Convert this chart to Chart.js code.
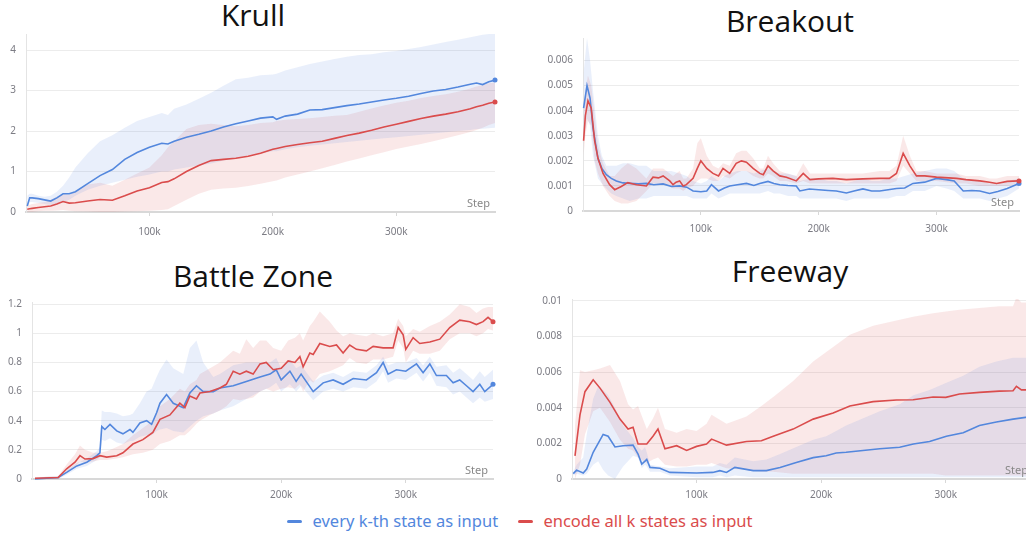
<!DOCTYPE html>
<html>
<head>
<meta charset="utf-8">
<script src="https://cdn.jsdelivr.net/npm/chart.js@4.4.1/dist/chart.umd.min.js"></script>
<style>
  html, body { margin: 0; padding: 0; background: #fff; }
  body { width: 1026px; height: 534px; overflow: hidden; position: relative; font-family: "Noto Sans", sans-serif; }
  canvas { position: absolute; }
  .title { position: absolute; width: 500px; text-align: center; font-family: "Open Sans", sans-serif; font-size: 30px; line-height: 30px; color: #111; }
  #legend { position: absolute; left: 0; top: 511px; width: 1040px; text-align: center; font-size: 16.5px; line-height: 20px; white-space: nowrap; }
  .item { display: inline-block; margin: 0 8px; }
  .mark { display: inline-block; width: 15px; height: 3px; border-radius: 2px; vertical-align: middle; margin-right: 10px; position: relative; top: -1px; }
</style>
</head>
<body>
<div class="title" style="left:3px;top:0px">Krull</div>
<div class="title" style="left:540px;top:6px">Breakout</div>
<div class="title" style="left:3px;top:261px">Battle Zone</div>
<div class="title" style="left:540px;top:256px">Freeway</div>

<canvas id="krull"></canvas>
<canvas id="breakout"></canvas>
<canvas id="battle"></canvas>
<canvas id="freeway"></canvas>

<div id="legend">
  <span class="item" style="color:#5387dd"><span class="mark" style="background:#5387dd"></span>every k-th state as input</span>
  <span class="item" style="color:#da4c4c"><span class="mark" style="background:#da4c4c"></span>encode all k states as input</span>
</div>

<script>
// ---- data (steps in thousands) ----
// Krull
const krullSteps = [1,3,5,10,15,20,25,30,35,40, 50,60,70,80,90,100,110,115,120,130, 140,150,160,170,180,190,200,203,210,220, 230,240,250,260,270,280,290,300,310,320, 330,340,350,360,365,370,375,380];
const krullEveryMean = [0.15,0.35,0.35,0.33,0.3,0.27,0.35,0.45,0.45,0.5, 0.7,0.9,1.05,1.3,1.47,1.6,1.7,1.68,1.75,1.85, 1.92,2.0,2.1,2.18,2.25,2.32,2.35,2.29,2.37,2.42, 2.52,2.53,2.58,2.63,2.67,2.72,2.77,2.81,2.86,2.93, 2.99,3.03,3.09,3.16,3.19,3.15,3.22,3.26];
const krullEveryHi = [0.4,0.45,0.45,0.4,0.38,0.4,0.5,0.65,0.85,1.1, 1.45,1.75,1.9,2.08,2.25,2.35,2.45,2.4,2.55,2.66, 2.8,2.95,3.12,3.28,3.32,3.38,3.4,3.42,3.5,3.58, 3.66,3.72,3.78,3.84,3.88,3.9,3.95,3.98,4.03,4.08, 4.14,4.2,4.26,4.32,4.35,4.38,4.4,4.42];
const krullEveryLo = [0.1,0.25,0.25,0.22,0.2,0.18,0.2,0.25,0.3,0.4, 0.55,0.65,0.72,0.8,0.87,0.93,1.0,1.0,1.05,1.1, 1.15,1.2,1.27,1.33,1.4,1.45,1.5,1.5,1.55,1.6, 1.64,1.67,1.7,1.73,1.76,1.79,1.82,1.85,1.88,1.91, 1.94,1.97,2.0,2.03,2.05,2.06,2.07,2.08];
const krullEncodeMean = [0.07,0.08,0.09,0.11,0.13,0.15,0.2,0.26,0.22,0.23, 0.27,0.31,0.29,0.4,0.52,0.6,0.73,0.75,0.82,1.0, 1.15,1.27,1.3,1.33,1.38,1.45,1.55,1.57,1.62,1.67, 1.71,1.75,1.82,1.89,1.95,2.02,2.1,2.17,2.24,2.31, 2.37,2.42,2.48,2.55,2.6,2.64,2.69,2.72];
const krullEncodeHi = [0.15,0.18,0.2,0.22,0.25,0.3,0.38,0.45,0.42,0.5, 0.68,0.72,0.65,0.8,0.95,1.1,1.4,1.6,1.75,2.05, 2.15,2.18,2.15,2.12,2.15,2.2,2.22,2.25,2.28,2.3, 2.32,2.35,2.38,2.4,2.48,2.56,2.63,2.7,2.75,2.82, 2.87,2.91,2.97,3.05,3.1,3.14,3.18,3.2];
const krullEncodeLo = [0,0,0,0.02,0.03,0.03,0.04,0.05,0.03,0.02, 0.01,0,0,0.01,0.02,0.03,0.05,0.07,0.15,0.3, 0.45,0.55,0.58,0.6,0.64,0.7,0.76,0.78,0.85,0.93, 1.0,1.08,1.16,1.25,1.32,1.4,1.48,1.56,1.62,1.68, 1.75,1.82,1.9,1.98,2.03,2.08,2.15,2.2];

// Breakout
const breakoutEverySteps = [0.5,3.4,6,8.5,12.7,16,19.8,24,28.3,34, 39.6,47,53.8,60,68,75,82,88,93.4,100, 105,109,115,120,124.5,131,138.7,145,150,157, 162,167,174,181,184,192,200,208,215,223.5, 230,237.6,245,251.8,259,266,273,280,290,300, 308.5,315,322.7,330,336.8,345,352,360,370];
const breakoutEveryMean = [0.0041,0.005,0.0045,0.0033,0.0021,0.0017,0.00145,0.0013,0.0012,0.00112, 0.0011,0.00108,0.0011,0.00105,0.00108,0.00098,0.001,0.00095,0.0008,0.00077, 0.0008,0.00105,0.0008,0.00092,0.001,0.00105,0.0011,0.00102,0.0011,0.00118, 0.0011,0.00105,0.00102,0.001,0.0008,0.00088,0.00085,0.00082,0.0008,0.00072, 0.0008,0.00088,0.0008,0.0008,0.00085,0.0009,0.00092,0.0011,0.00115,0.0013, 0.00125,0.0012,0.0008,0.00082,0.0008,0.0007,0.00078,0.0009,0.0011];
const breakoutEveryHi = [0.0055,0.0069,0.006,0.0048,0.003,0.0022,0.0018,0.0018,0.0018,0.0019, 0.0019,0.0018,0.0018,0.0016,0.0016,0.0016,0.0015,0.0014,0.0012,0.0011, 0.0012,0.0014,0.0012,0.0014,0.0015,0.0016,0.0016,0.0015,0.0016,0.0017, 0.0016,0.0015,0.0015,0.0014,0.0012,0.0013,0.0013,0.0012,0.0012,0.0011, 0.0012,0.0013,0.0012,0.0012,0.0013,0.0013,0.0014,0.0015,0.0016,0.0017, 0.0017,0.0016,0.0013,0.0012,0.0012,0.0011,0.0011,0.0012,0.0013];
const breakoutEveryLo = [0.0028,0.0037,0.0034,0.0022,0.0013,0.0011,0.0009,0.0007,0.0006,0.0005, 0.0004,0.0005,0.0005,0.0006,0.0006,0.0006,0.0006,0.0006,0.0005,0.0005, 0.0005,0.0007,0.0005,0.0006,0.0007,0.0007,0.0007,0.0007,0.0007,0.0008, 0.0007,0.0007,0.0006,0.0006,0.0005,0.0005,0.0005,0.0005,0.0005,0.0004, 0.0005,0.0005,0.0005,0.0005,0.0005,0.0006,0.0006,0.0008,0.0008,0.001, 0.0009,0.0008,0.0005,0.0005,0.0005,0.0004,0.0005,0.0006,0.0009];
const breakoutEncodeSteps = [0.5,2,4.2,7,9.9,12.7,17,22.6,26.9,32.5, 38,45.3,53.8,59.4,64,68,73.6,76.4,79,82, 85,87.7,93.4,97,100,105,110.3,115,118.8,124.5, 130,134.5,138.7,144.4,150,153,157,161.3,167,172.6, 181,186.9,192.6,200,212,223.5,237.6,251.8,260,266, 271.7,277.4,283,290,300,317,325,336.8,345,351, 360,370];
const breakoutEncodeMean = [0.0028,0.0038,0.0044,0.0041,0.0028,0.0021,0.0015,0.00105,0.00085,0.00098, 0.00113,0.00105,0.001,0.00135,0.00132,0.0014,0.0012,0.00105,0.00115,0.0012, 0.001,0.00105,0.0013,0.0017,0.002,0.0017,0.0015,0.0014,0.0017,0.0015, 0.0019,0.002,0.00195,0.0017,0.0015,0.00145,0.0018,0.0016,0.0014,0.00135, 0.0012,0.0015,0.00125,0.00128,0.0013,0.00125,0.00128,0.0013,0.0013,0.0015, 0.0023,0.0018,0.0014,0.0014,0.00135,0.0013,0.00125,0.0012,0.00115,0.0011, 0.00118,0.0012];
const breakoutEncodeHi = [0.0035,0.0048,0.0054,0.005,0.0038,0.0026,0.0019,0.0014,0.0014,0.0017, 0.0019,0.0017,0.0013,0.0017,0.0017,0.0017,0.0015,0.0014,0.0015,0.0016, 0.0013,0.0013,0.0017,0.0027,0.0029,0.0022,0.0018,0.0017,0.0019,0.0018, 0.0023,0.0024,0.0024,0.0021,0.0017,0.0017,0.0022,0.0019,0.0016,0.0015, 0.0014,0.0019,0.0015,0.0015,0.0015,0.0015,0.0015,0.0016,0.0016,0.0018, 0.003,0.0022,0.0016,0.0016,0.0015,0.0015,0.0014,0.0014,0.0013,0.0013, 0.0014,0.0014];
const breakoutEncodeLo = [0.0022,0.003,0.0036,0.0034,0.002,0.0015,0.001,0.0006,0.0004,0.0003, 0.0003,0.0004,0.0008,0.0011,0.0011,0.0011,0.001,0.0009,0.0009,0.0009, 0.0008,0.0009,0.001,0.0012,0.0013,0.0013,0.0012,0.0012,0.0014,0.0013, 0.0015,0.0016,0.0016,0.0014,0.0013,0.0013,0.0015,0.0014,0.0012,0.0012, 0.0011,0.0012,0.0011,0.0011,0.0011,0.0011,0.0011,0.0011,0.0011,0.0012, 0.0018,0.0015,0.0012,0.0012,0.0012,0.0011,0.0011,0.001,0.001,0.001, 0.001,0.0011];

// Battle Zone
const battleEverySteps = [2.4,21,27.8,36,44,52,54.5,56,58.5,62.6, 68,73,78.6,81,86.6,92,96,100,102.7,108, 113.4,121.4,126.7,132,137.4,145.5,150.8,161.5,172,183, 191,196,200,207,212,216,225.7,233.7,241.7,249.7, 257.8,268.4,276.5,281.8,285.8,292.5,300,308.6,313.9,319.3, 324.6,332.6,338,343.3,348.7,354,359.4,363.4,370];
const battleEveryMean = [0,0.01,0.045,0.09,0.115,0.16,0.18,0.36,0.34,0.375, 0.33,0.31,0.34,0.32,0.385,0.4,0.375,0.455,0.52,0.58, 0.52,0.49,0.59,0.64,0.6,0.6,0.625,0.64,0.67,0.7, 0.72,0.75,0.68,0.74,0.67,0.72,0.6,0.66,0.68,0.65, 0.69,0.68,0.73,0.8,0.72,0.75,0.74,0.79,0.73,0.79, 0.71,0.71,0.66,0.68,0.64,0.6,0.65,0.6,0.65];
const battleEveryHi = [0.01,0.02,0.06,0.11,0.14,0.19,0.22,0.47,0.46,0.46, 0.45,0.43,0.44,0.45,0.52,0.6,0.62,0.7,0.75,0.82, 0.76,0.72,0.9,0.95,0.8,0.7,0.72,0.78,0.8,0.8, 0.8,0.83,0.76,0.82,0.76,0.78,0.67,0.71,0.73,0.7, 0.74,0.73,0.78,0.84,0.78,0.8,0.8,0.83,0.78,0.84, 0.77,0.78,0.73,0.76,0.72,0.68,0.74,0.7,0.75];
const battleEveryLo = [0,0,0.03,0.07,0.09,0.13,0.15,0.27,0.26,0.28, 0.25,0.24,0.26,0.26,0.29,0.3,0.3,0.33,0.34,0.35, 0.33,0.32,0.36,0.4,0.43,0.45,0.47,0.5,0.55,0.6, 0.63,0.66,0.6,0.65,0.6,0.64,0.54,0.6,0.62,0.6, 0.63,0.62,0.67,0.74,0.66,0.69,0.68,0.73,0.67,0.73, 0.64,0.63,0.58,0.6,0.56,0.52,0.56,0.53,0.55];
const battleEncodeSteps = [2.4,21,27.8,34.5,38.5,42.5,49,54.5,60,68, 73,81,89,97,102.7,110.7,118.7,122.7,126.7,132, 134.8,142.8,150.8,156,161.5,166.8,172,177.5,183,188, 193.6,200,205.6,211,215,217.6,223,225.7,231,239, 244.4,249.7,255,260.4,268.4,273.8,281.8,289.8,293.9,297.9, 300,305.9,311.2,319.3,327.3,335.3,343.3,351.3,356.7,362, 366,370];
const battleEncodeMean = [0.005,0.01,0.07,0.115,0.16,0.137,0.14,0.16,0.15,0.16, 0.18,0.24,0.27,0.32,0.41,0.44,0.52,0.49,0.57,0.55, 0.59,0.6,0.625,0.65,0.74,0.72,0.74,0.72,0.79,0.8, 0.75,0.76,0.81,0.8,0.84,0.77,0.865,0.855,0.93,0.91, 0.92,0.865,0.92,0.89,0.88,0.91,0.9,0.9,1.04,0.99, 0.89,0.97,0.93,0.94,0.96,1.04,1.09,1.08,1.06,1.08, 1.11,1.08];
const battleEncodeHi = [0.01,0.02,0.1,0.17,0.23,0.2,0.18,0.18,0.19,0.22, 0.24,0.3,0.35,0.4,0.5,0.55,0.62,0.6,0.65,0.68, 0.72,0.76,0.8,0.84,0.88,0.86,0.96,0.9,0.95,0.95, 0.9,0.88,0.95,0.97,1.0,0.95,1.05,1.08,1.15,1.08, 1.02,0.98,1.0,0.99,0.98,1.0,0.98,1.0,1.1,1.05, 0.98,1.03,1.01,1.05,1.08,1.13,1.2,1.18,1.14,1.17, 1.18,1.18];
const battleEncodeLo = [0,0,0.05,0.08,0.12,0.11,0.12,0.13,0.13,0.14, 0.15,0.17,0.18,0.2,0.24,0.26,0.3,0.3,0.33,0.38, 0.4,0.44,0.47,0.5,0.55,0.54,0.55,0.56,0.6,0.62, 0.6,0.62,0.63,0.62,0.65,0.6,0.68,0.66,0.72,0.74, 0.76,0.78,0.83,0.8,0.79,0.82,0.82,0.84,0.95,0.9, 0.8,0.88,0.86,0.86,0.88,0.96,1.0,1.0,0.98,1.0, 1.03,1.02];

// Freeway
const freewayEverySteps = [1,3.7,9,11.8,17,21,25,29,34.5,41, 49,53,56,58.6,60,62.6,70.6,78.6,100,113, 118.7,124,130.7,145.5,156,167,180,193.6,204,212, 220,247,263,274,287,300.5,314,327,340.6,354, 364,370];
const freewayEveryMean = [0.0003,0.0005,0.00034,0.00056,0.0015,0.002,0.0025,0.0024,0.0018,0.00187, 0.0019,0.0014,0.00084,0.001,0.0011,0.00065,0.0006,0.00037,0.00034,0.00037, 0.00047,0.00037,0.00065,0.00047,0.00047,0.00065,0.00093,0.0012,0.0013,0.00146, 0.0015,0.0017,0.00178,0.00196,0.0021,0.0024,0.0026,0.003,0.0032,0.00336, 0.00346,0.0035];
const freewayEveryHi = [0.0004,0.0008,0.0012,0.0025,0.0045,0.0052,0.005,0.0047,0.004,0.003, 0.0023,0.0018,0.0016,0.0018,0.0015,0.0008,0.0007,0.0006,0.0007,0.0007, 0.0009,0.0008,0.0012,0.001,0.0011,0.0014,0.0018,0.0022,0.0024,0.0027, 0.003,0.0038,0.0042,0.0047,0.005,0.0054,0.0058,0.0063,0.0066,0.0068, 0.0068,0.0068];
const freewayEveryLo = [0.0002,0.0003,0.0002,0.0003,0.0008,0.001,0.0005,0.0002,0,0.0007, 0.0013,0.0012,0.0006,0.0008,0.0007,0.0004,0.0004,0.0002,0.0001,0.0001, 0.0002,0.0001,0.0002,0.0001,0.0001,0.0001,0.0001,0.0001,0.0001,0.0001, 0.0001,0.0001,0.0001,0.0001,0.0001,0.0001,0.0001,0.0001,0.0001,0.0001, 0.0001,0.0001];
const freewayEncodeSteps = [2.4,6.4,10.4,17,22.5,30.5,38.5,45,49,53, 60,65,69,74.6,84,92,100,108,112,124, 140,152,161.5,177.5,193.6,209.6,223,241.7,260.4,273.8, 289.8,300,311,327,343,354,356.7,360.7,370];
const freewayEncodeMean = [0.0013,0.0036,0.0049,0.00557,0.0051,0.0043,0.00336,0.0028,0.0029,0.00196, 0.00196,0.0024,0.0028,0.0017,0.00187,0.0016,0.00183,0.00196,0.00224,0.0019, 0.0021,0.00215,0.0024,0.0028,0.00336,0.0037,0.0041,0.00434,0.00443,0.00445, 0.0046,0.00458,0.00477,0.00486,0.00493,0.00495,0.0052,0.005,0.005];
const freewayEncodeHi = [0.003,0.0061,0.006,0.0061,0.0062,0.0064,0.0055,0.0042,0.0039,0.0041, 0.0028,0.0034,0.004,0.0028,0.0026,0.0028,0.0027,0.0031,0.0036,0.0031, 0.0035,0.0041,0.0046,0.0055,0.0066,0.0074,0.0081,0.0086,0.0089,0.0091, 0.0093,0.0094,0.0095,0.0096,0.0097,0.0097,0.0102,0.0099,0.0099];
const freewayEncodeLo = [0,0.0008,0.0025,0.0038,0.004,0.0032,0.0022,0.0017,0.0016,0.0012, 0.0009,0.0011,0.0012,0.0008,0.0007,0.0007,0.0008,0.0008,0.0009,0.0006, 0.0005,0.0004,0.0004,0.0003,0.0003,0.0003,0.0003,0.0003,0.0003,0.0003, 0.0003,0.0002,0.0002,0.0002,0.0002,0.0002,0.0002,0.0002,0.0002];

// ---- styling ----
const BLUE = "#5387dd", RED = "#da4c4c";
const BLUE_BAND = "rgba(83,135,221,0.13)", RED_BAND = "rgba(218,76,76,0.13)";
const TICK_COLOR = "#7c7c84";

const pts = (xs, ys) => xs.map((x, i) => ({ x, y: ys[i] }));
const fmt = (v) => String(+v.toFixed(6));

// "Step" caption in the bottom-right of each plot
const stepLabel = {
  id: "stepLabel",
  afterDraw(chart){
    const a = chart.chartArea, ctx = chart.ctx;
    ctx.save();
    ctx.font = '11px "Noto Sans"';
    ctx.fillStyle = "#888";
    ctx.textAlign = "right";
    ctx.textBaseline = "middle";
    ctx.fillText("Step", a.right - 5, a.bottom - 8);
    ctx.restore();
  }
};

function meanLine(data, color){
  const n = data.length;
  return {
    data, borderColor: color, backgroundColor: color, borderWidth: 1.6,
    pointRadius: (c) => c.dataIndex === n - 1 ? 2.5 : 0,
    pointBorderWidth: 0, fill: false, tension: 0, clip: false
  };
}
function band(data, color, fill){
  return { data, borderWidth: 0, pointRadius: 0, backgroundColor: color, borderColor: "transparent", fill, tension: 0 };
}

// box: plot-area edges in page pixels
function panel(id, box, every, encode){
  const yW = box.yW, xH = 30, padTop = 6, padRight = 8;
  const cv = document.getElementById(id);
  const left = box.L - yW, top = box.T - padTop;
  cv.style.left = left + "px";
  cv.style.top = top + "px";
  cv.width = box.R + padRight - left;
  cv.height = box.B + xH - top;

  new Chart(cv, {
    type: "line",
    data: {
      datasets: [
        meanLine(pts(encode.steps, encode.mean), RED),
        meanLine(pts(every.steps, every.mean), BLUE),
        band(pts(every.steps, every.hi), BLUE_BAND, "+1"),
        band(pts(every.steps, every.lo), BLUE_BAND, false),
        band(pts(encode.steps, encode.hi), RED_BAND, "+1"),
        band(pts(encode.steps, encode.lo), RED_BAND, false)
      ]
    },
    options: {
      responsive: false, animation: false, devicePixelRatio: 1, events: [],
      layout: { padding: { left: 0, top: padTop, right: padRight, bottom: 0 } },
      plugins: { legend: { display: false }, tooltip: { enabled: false } },
      scales: {
        x: {
          type: "linear", min: 0, max: box.xMax,
          afterFit: (s) => { s.height = xH; s.paddingLeft = 0; s.paddingRight = 0; },
          afterBuildTicks: (s) => { s.ticks = s.ticks.filter(t => t.value > 0); },
          ticks: { stepSize: 100, includeBounds: false, maxRotation: 0, padding: box.xPad,
                   color: TICK_COLOR, font: { family: "Noto Sans", size: 10 },
                   callback: (v) => v + "k" },
          grid: { drawOnChartArea: false, drawTicks: true, tickLength: 4, tickColor: "#d8d8d8" },
          border: { display: true, color: "#d8d8d8", width: 2 }
        },
        y: {
          min: 0, max: box.yMax,
          afterFit: (s) => { s.width = yW; s.paddingTop = 0; s.paddingBottom = 0; },
          ticks: { stepSize: box.yStep, includeBounds: false, padding: 10,
                   color: TICK_COLOR, font: { family: "Noto Sans", size: 10 },
                   callback: fmt },
          grid: { color: "#ececec", drawTicks: false },
          border: { display: true, color: "#e4e4e4", width: 1 }
        }
      }
    },
    plugins: [stepLabel]
  });
}

panel("krull", { L: 26, R: 495, T: 34, B: 212, yW: 26, xMax: 380, yMax: 4.4, yStep: 1, xPad: 10 },
  { steps: krullSteps, mean: krullEveryMean, hi: krullEveryHi, lo: krullEveryLo },
  { steps: krullSteps, mean: krullEncodeMean, hi: krullEncodeHi, lo: krullEncodeLo });

panel("breakout", { L: 583, R: 1019, T: 37.5, B: 211, yW: 60, xMax: 370, yMax: 0.0069, yStep: 0.001, xPad: 8 },
  { steps: breakoutEverySteps, mean: breakoutEveryMean, hi: breakoutEveryHi, lo: breakoutEveryLo },
  { steps: breakoutEncodeSteps, mean: breakoutEncodeMean, hi: breakoutEncodeHi, lo: breakoutEncodeLo });

panel("battle", { L: 32, R: 493, T: 301.5, B: 479, yW: 32, xMax: 370, yMax: 1.215, yStep: 0.2, xPad: 6 },
  { steps: battleEverySteps, mean: battleEveryMean, hi: battleEveryHi, lo: battleEveryLo },
  { steps: battleEncodeSteps, mean: battleEncodeMean, hi: battleEncodeHi, lo: battleEncodeLo });

panel("freeway", { L: 572, R: 1033, T: 299, B: 479, yW: 60, xMax: 370, yMax: 0.0101, yStep: 0.002, xPad: 6 },
  { steps: freewayEverySteps, mean: freewayEveryMean, hi: freewayEveryHi, lo: freewayEveryLo },
  { steps: freewayEncodeSteps, mean: freewayEncodeMean, hi: freewayEncodeHi, lo: freewayEncodeLo });
</script>
</body>
</html>
